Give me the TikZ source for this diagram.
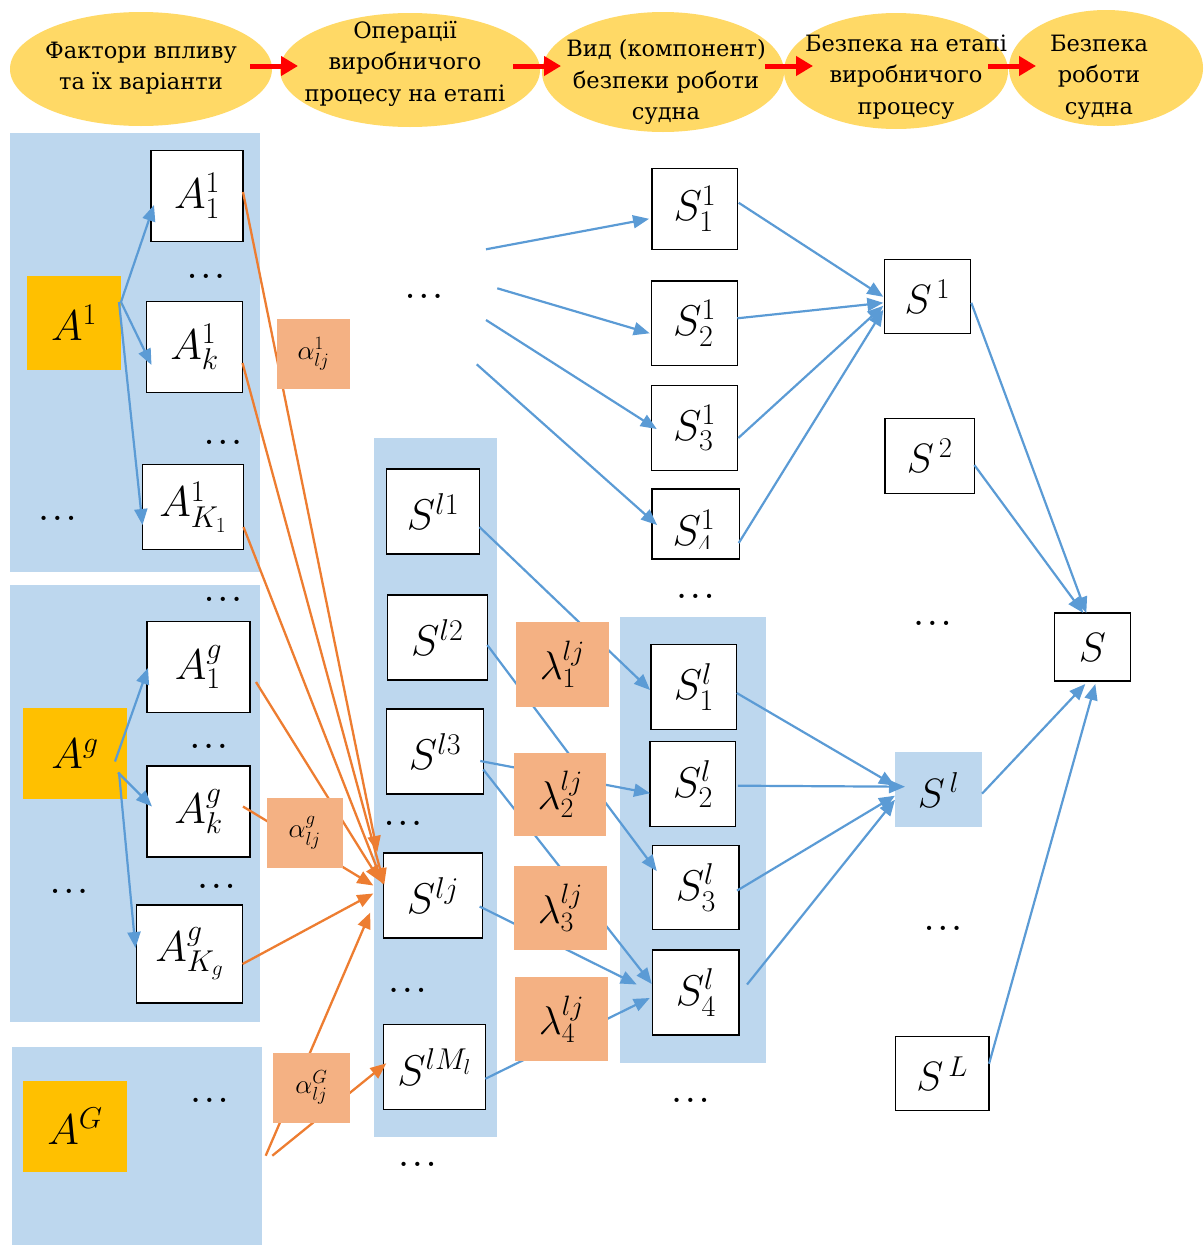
\RequirePackage{fix-cm}
\documentclass[tikz,border=0pt]{standalone}
\usepackage{amsmath}
\usepackage{fontspec}
\newfontfamily\headfont{DejaVu Serif}
\usetikzlibrary{shapes.geometric,arrows.meta,calc}

\definecolor{panelblue}{HTML}{BDD7EE}
\definecolor{linkblue}{HTML}{5B9BD5}
\definecolor{linkorange}{HTML}{ED7D31}
\definecolor{factorgold}{HTML}{FFC000}
\definecolor{weightfill}{HTML}{F4B183}
\definecolor{headfill}{HTML}{FFD966}

\pgfdeclarelayer{panels}
\pgfdeclarelayer{top}
\pgfsetlayers{panels,main,top}

\begin{document}
\begin{tikzpicture}[x=1pt,y=-1pt,
  every node/.style={inner sep=0pt,outer sep=0pt},
  headell/.style={ellipse,fill=headfill,draw=none},
  headtxt/.style={align=center,font=\headfont\fontsize{22.5}{31.5}\selectfont},
  flow/.style={draw=red,line width=5pt,-{Triangle[length=17pt,width=19pt]}},
  varbox/.style={draw=black,line width=1.3pt,fill=white,font=\fontsize{43}{48}\selectfont},
  factor/.style={fill=factorgold,font=\fontsize{43}{48}\selectfont},
  weight/.style={fill=weightfill,font=\fontsize{27}{30}\selectfont},
  lamw/.style={fill=weightfill,font=\fontsize{40}{44}\selectfont},
  sumbox/.style={draw=black,line width=1.3pt,fill=white,font=\fontsize{41}{44}\selectfont},
  dots/.style={font=\fontsize{27}{30}\selectfont\boldmath},
  bluearrow/.style={draw=linkblue,line width=2.2pt,-{Triangle[length=16pt,width=13pt]}},
  orangearrow/.style={draw=linkorange,line width=2.3pt,-{Triangle[length=16pt,width=13pt]}},
]
\useasboundingbox (0,0) rectangle (1203,1245);

% ---------- header chain ----------
\node[headell,minimum width=262,minimum height=114] (E1) at (141,69) {};
\node[headell,minimum width=260,minimum height=114] (E2) at (410,70) {};
\node[headell,minimum width=242,minimum height=120] (E3) at (663,72) {};
\node[headell,minimum width=224,minimum height=116] (E4) at (896,71) {};
\node[headell,minimum width=194,minimum height=116] (E5) at (1106,68) {};
\node[headtxt] (T1) at (141,68) {Фактори впливу\\та їх варіанти};
\node[headtxt] (T2) at (405,63.5) {Операції\\виробничого\\процесу на етапі};
\node[headtxt] (T3) at (666,82) {Вид (компонент)\\безпеки роботи\\судна};
\node[headtxt] (T4) at (906,77) {Безпека на етапі\\виробничого\\процесу};
\node[headtxt] (T5) at (1099,77) {Безпека\\роботи\\судна};
\draw[flow] ($(E1.east)+(-22,-3)$) -- ($(E2.west)+(18,-4)$);
\draw[flow] ($(E2.east)+(-27,-4)$) -- ($(E3.west)+(19,-6)$);
\draw[flow] ($(E3.east)+(-19,-6)$) -- ($(E4.west)+(29,-5)$);
\draw[flow] ($(E4.east)+(-20,-5)$) -- ($(E5.west)+(27,-2)$);

% ---------- background panels ----------
\begin{pgfonlayer}{panels}
\fill[panelblue] (10,133) rectangle (260,572);
\fill[panelblue] (10,585) rectangle (260,1022);
\fill[panelblue] (12,1047) rectangle (262,1245);
\fill[panelblue] (374,438) rectangle (497,1137);
\fill[panelblue] (620,617) rectangle (766,1063);
\end{pgfonlayer}

% ---------- factors and their variants ----------
\node[factor,minimum width=94,minimum height=94] (A1) at (74,323) {$A^{1}$};
\node[varbox,minimum width=92,minimum height=91] (A11) at (197,196) {$A^{1}_{1}$};
\node[varbox,minimum width=96,minimum height=91] (A1k) at (194.5,347) {$A^{1}_{k}$};
\node[varbox,minimum width=101,minimum height=85] (A1K) at (193,507) {$A^{1}_{K_1}$};

\node[factor,minimum width=104,minimum height=91] (Ag) at (75,753.5) {$A^{g}$};
\node[varbox,minimum width=103,minimum height=91] (Ag1) at (198.5,667) {$A^{g}_{1}$};
\node[varbox,minimum width=103,minimum height=91] (Agk) at (198.5,811.5) {$A^{g}_{k}$};
\node[varbox,minimum width=106,minimum height=98] (AgK) at (189.5,954) {$A^{g}_{K_g}$};

\node[factor,minimum width=104,minimum height=91] (AG) at (75,1126.5) {$A^{G}$};

% ---------- operation states ----------
\node[varbox,minimum width=93,minimum height=85] (Sl1) at (433,511.5) {$S^{l1}$};
\node[varbox,minimum width=100,minimum height=85] (Sl2) at (437.3,637.5) {$S^{l2}$};
\node[varbox,minimum width=96.6,minimum height=85] (Sl3) at (435,751.5) {$S^{l3}$};
\node[varbox,minimum width=99.4,minimum height=85] (Slj) at (433,895.5) {$S^{lj}$};
\node[varbox,minimum width=102,minimum height=85] (SlM) at (434.3,1067.3) {$S^{lM_l}$};

% ---------- safety components ----------
\node[varbox,minimum width=85.7,minimum height=81] (S11) at (694.9,208.8) {$S^{1}_{1}$};
\node[varbox,minimum width=85.6,minimum height=84.7] (S12) at (694.5,323.3) {$S^{1}_{2}$};
\node[varbox,minimum width=85.6,minimum height=84.6] (S13) at (694.5,428) {$S^{1}_{3}$};
\node[varbox,minimum width=87.7,minimum height=70] (S14) at (695.9,524) {};
\begin{scope}
  \clip ($(S14.north west)+(1,1)$) rectangle ($(S14.south east)+(-1,-11)$);
  \node[font=\fontsize{43}{48}\selectfont,anchor=base] (S14t) at ($(S14.south)+(-2,-14)$) {$S^{1}_{4}$};
\end{scope}

\node[varbox,minimum width=85.7,minimum height=84.8] (S1l) at (693.9,687) {$S^{l}_{1}$};
\node[varbox,minimum width=85.7,minimum height=84.8] (S2l) at (692.9,784.2) {$S^{l}_{2}$};
\node[varbox,minimum width=86.3,minimum height=84.3] (S3l) at (695.9,887.6) {$S^{l}_{3}$};
\node[varbox,minimum width=86.3,minimum height=85] (S4l) at (695.9,992.5) {$S^{l}_{4}$};

% ---------- stage safety and ship safety ----------
\node[sumbox,minimum width=86,minimum height=74] (S1) at (927.3,296.8) {$S^{\,1}$};
\node[sumbox,minimum width=89.3,minimum height=74.7] (S2) at (929.7,456) {$S^{\,2}$};
\node[sumbox,draw=none,fill=panelblue,minimum width=87,minimum height=74.6] (Sl) at (938.5,789.7) {$S^{\,l}$};
\node[sumbox,minimum width=93.7,minimum height=74.2] (SL) at (942.2,1073.7) {$S^{\,L}$};
\node[sumbox,minimum width=76,minimum height=68] (S) at (1092.3,647) {$S$};

% ---------- ellipsis marks ----------
\node[dots] (d1) at (206,276.7) {$\ldots$};
\node[dots] (d2) at (223,442.7) {$\ldots$};
\node[dots] (d3) at (57.5,518.3) {$\ldots$};
\node[dots] (d4) at (223,599) {$\ldots$};
\node[dots] (d5) at (208.7,746.7) {$\ldots$};
\node[dots] (d6) at (69,891.7) {$\ldots$};
\node[dots] (d7) at (216.5,886) {$\ldots$};
\node[dots] (d8) at (209.5,1100.7) {$\ldots$};
\node[dots] (d9) at (424,296.7) {$\ldots$};
\node[dots] (d10) at (403,823) {$\ldots$};
\node[dots] (d11) at (407.5,990) {$\ldots$};
\node[dots] (d12) at (417.5,1164) {$\ldots$};
\node[dots] (d13) at (695.5,596) {$\ldots$};
\node[dots] (d14) at (690.5,1100.7) {$\ldots$};
\node[dots] (d15) at (932.5,623.7) {$\ldots$};
\node[dots] (d16) at (943,928) {$\ldots$};

% free ends of the connectors
\coordinate (u1) at (486,249.3);
\coordinate (u2) at (497.3,288.3);
\coordinate (u3) at (486,320);
\coordinate (u4) at (476.7,364.3);
\coordinate (g1) at (265.7,1155.7);
\coordinate (g2) at (272.3,1155.7);

% ---------- factor -> variant ----------
\draw[bluearrow] ($(A1.east)+(0,-21)$) -- ($(A11.west)+(3,9)$);
\draw[bluearrow] ($(A1.east)+(0,-21)$) -- ($(A1k.west)+(5,18)$);
\draw[bluearrow] ($(A1.east)+(-2,-21)$) -- ($(A1K.west)+(0,18)$);
\draw[bluearrow] ($(Ag.east)+(-12,8)$) -- ($(Ag1.west)+(1,1)$);
\draw[bluearrow] ($(Ag.east)+(-9,19)$) -- ($(Agk.west)+(5,-5)$);
\draw[bluearrow] ($(Ag.east)+(-8,19)$) -- ($(AgK.west)+(-1,-6)$);

% ---------- variants -> operation state ----------
\draw[orangearrow] ($(A11.east)+(0,-4)$) -- ($(Slj.north west)+(-6,-1)$);
\draw[orangearrow] ($(A1k.east)+(0,16)$) -- ($(Slj.west)+(1,-11)$);
\draw[orangearrow] ($(A1K.east)+(0,20)$) -- ($(Slj.west)+(0,-11)$);
\draw[orangearrow] ($(Ag1.east)+(6,15)$) -- ($(Slj.west)+(-3,-14)$);
\draw[orangearrow] ($(Agk.east)+(-7,-5)$) -- ($(Slj.west)+(-10,-10)$);
\draw[orangearrow] ($(AgK.east)+(0,10)$) -- ($(Slj.west)+(-10,-2)$);
\draw[orangearrow] (g1) -- ($(Slj.west)+(-13,17)$);
\draw[orangearrow] (g2) -- ($(SlM.west)+(3,-4)$);

% ---------- operation states -> safety components ----------
\draw[bluearrow] ($(Sl1.east)+(0,15.5)$) -- ($(S1l.west)+(-1,3)$);
\draw[bluearrow] ($(Sl2.east)+(0,7.5)$) -- ($(S3l.west)+(4,-16.5)$);
\draw[bluearrow] ($(Sl3.east)+(-3,9.5)$) -- ($(S2l.west)+(0,9)$);
\draw[bluearrow] ($(Sl3.east)+(0,18)$) -- ($(S4l.west)+(-1,-8.5)$);
\draw[bluearrow] ($(Slj.east)+(-3,11)$) -- ($(S4l.west)+(-16,-8)$);
\draw[bluearrow] ($(SlM.east)+(0,11.5)$) -- ($(S4l.west)+(-3,5.5)$);

\draw[bluearrow] (u1) -- ($(S11.west)+(-3,10)$);
\draw[bluearrow] (u2) -- ($(S12.west)+(-2,10)$);
\draw[bluearrow] (u3) -- ($(S13.west)+(5,1)$);
\draw[bluearrow] (u4) -- ($(S14.west)+(5,1)$);

% ---------- components -> stage safety ----------
\draw[bluearrow] ($(S11.east)+(1,-6)$) -- ($(S1.west)+(-1,0)$);
\draw[bluearrow] ($(S12.east)+(0,-5)$) -- ($(S1.west)+(-1,6)$);
\draw[bluearrow] ($(S13.east)+(1,10)$) -- ($(S1.west)+(-1,9)$);
\draw[bluearrow] ($(S14.east)+(-1,19)$) -- ($(S1.west)+(-1,13)$);

\draw[bluearrow] ($(S1l.east)+(0,6)$) -- ($(Sl.west)+(0,-4)$);
\draw[bluearrow] ($(S2l.east)+(2,1.5)$) -- ($(Sl.west)+(10,-3)$);
\draw[bluearrow] ($(S3l.east)+(-2,3)$) -- ($(Sl.west)+(0,6)$);
\draw[bluearrow] ($(S4l.east)+(8,-8)$) -- ($(Sl.west)+(0,10)$);

% ---------- stage safety -> ship safety ----------
\draw[bluearrow] ($(S1.east)+(1,6)$) -- ($(S.north)+(-6,0)$);
\draw[bluearrow] ($(S2.east)+(0,9)$) -- ($(S.north)+(-9,0)$);
\draw[bluearrow] ($(Sl.east)+(0,4)$) -- ($(S.south)+(-7,3)$);
\draw[bluearrow] ($(SL.east)+(0,-10)$) -- ($(S.south)+(3,3)$);

% ---------- weights on top of the links ----------
\begin{pgfonlayer}{top}
\node[weight,minimum width=73,minimum height=70] (w1) at (313.5,354) {$\alpha^{1}_{lj}$};
\node[weight,minimum width=76,minimum height=70] (wg) at (304.7,832.5) {$\alpha^{g}_{lj}$};
\node[weight,minimum width=77,minimum height=70] (wG) at (311.5,1087.5) {$\alpha^{G}_{lj}$};
\node[lamw,minimum width=93,minimum height=84.5] (L1) at (562.3,664.3) {$\lambda^{lj}_{1}$};
\node[lamw,minimum width=92.3,minimum height=83.5] (L2) at (560.2,794.3) {$\lambda^{lj}_{2}$};
\node[lamw,minimum width=92.7,minimum height=84] (L3) at (560.3,908) {$\lambda^{lj}_{3}$};
\node[lamw,minimum width=92.4,minimum height=84.4] (L4) at (561.5,1019.2) {$\lambda^{lj}_{4}$};
\end{pgfonlayer}
\end{tikzpicture}
\end{document}
